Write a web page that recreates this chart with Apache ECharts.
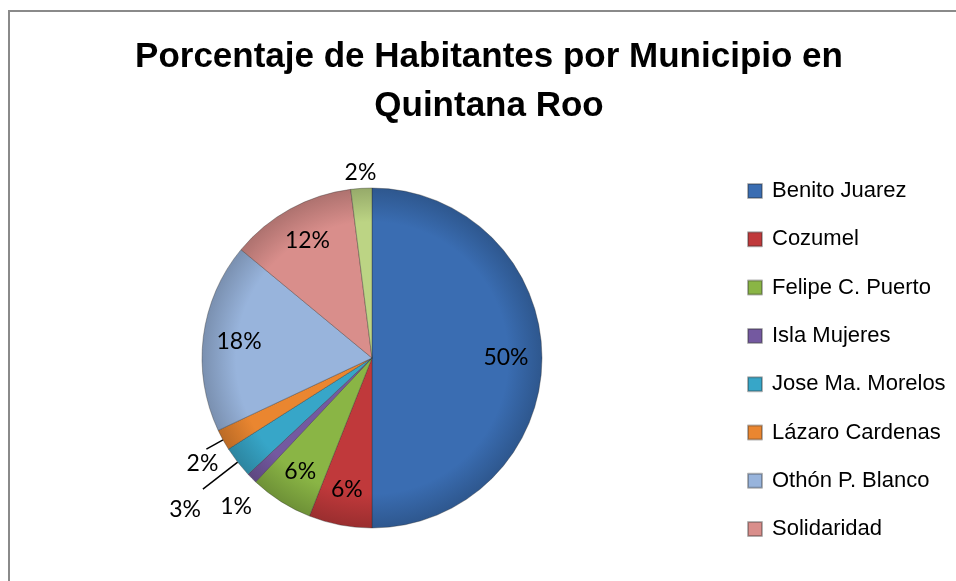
<!DOCTYPE html>
<html lang="es">

<head>
    <meta charset="UTF-8">
    <title>Habitantes por Municipio</title>
    <style>
        html, body {
            margin: 0;
            padding: 0;
            background: #fff;
            overflow: hidden;
        }

        .main {
            position: absolute;
            left: 0;
            top: 0;
            width: 956px;
            height: 581px;
        }

        .marco {
            position: absolute;
            left: 8px;
            top: 10px;
            right: -10px;
            bottom: -10px;
            border-left: 2px solid #8a8a8a;
            border-top: 2px solid #8a8a8a;
            pointer-events: none;
        }
    </style>
    <script src="https://cdn.jsdelivr.net/npm/echarts@6/dist/echarts.min.js"></script>
</head>

<body>
    <div class="main"></div>
    <div class="marco"></div>
    <script>
        // datos
        var municipios = ['Benito Juarez', 'Cozumel', 'Felipe C. Puerto', 'Isla Mujeres', 'Jose Ma. Morelos',
            'Lázaro Cardenas', 'Othón P. Blanco', 'Solidaridad', 'Tulum'];
        var porcentajes = [50, 6, 6, 1, 3, 2, 18, 12, 2];
        // la leyenda original solo muestra 8
        var leyenda = municipios.slice(0, 8);

        var colores = ['#3a6db2', '#c0393b', '#8ab545', '#7459a0', '#37a6c8', '#ea8630', '#98b4dc', '#d98e8b', '#bcd484'];

        var centro = [372, 358];
        var radio = 170;

        // etiquetas fuera del pastel (las rebanadas chicas), con su ajuste
        var fuera = {
            'Isla Mujeres': { length: 28, line: false, dx: 22, dy: 9 },
            'Jose Ma. Morelos': { length: 44, line: true, dx: 0, dy: 20 },
            'Lázaro Cardenas': { length: 19, line: true, dx: 14, dy: 15 },
            'Tulum': { length: 16, line: false, dx: 18, dy: 0 }
        };

        var myChart = echarts.init(document.querySelector('.main'));

        // oscurece un color hex
        function oscuro(hex, k) {
            var n = parseInt(hex.slice(1), 16);
            var r = Math.round(((n >> 16) & 255) * k);
            var g = Math.round(((n >> 8) & 255) * k);
            var b = Math.round((n & 255) * k);
            return 'rgb(' + r + ',' + g + ',' + b + ')';
        }

        var datosPie = [], datosEtiquetas = [];
        for (var i = 0; i < municipios.length; i++) {
            var nombre = municipios[i];
            var f = fuera[nombre];
            var base = colores[i];
            datosPie.push({
                name: nombre,
                value: porcentajes[i],
                itemStyle: {
                    color: {
                        type: 'radial', x: centro[0], y: centro[1], r: radio, global: true,
                        colorStops: [
                            { offset: 0, color: base },
                            { offset: 0.8, color: base },
                            { offset: 1, color: oscuro(base, 0.8) }
                        ]
                    }
                },
                label: { show: !!f },
                labelLine: f ? { show: f.line, length: f.length, length2: 0 } : { show: false }
            });
            datosEtiquetas.push({
                name: nombre,
                value: porcentajes[i],
                label: { show: !f }
            });
        }

        var datosLeyenda = leyenda.map(function (n) {
            return { name: n, itemStyle: { color: colores[municipios.indexOf(n)] } };
        });

        var option = {
            title: {
                text: 'Porcentaje de Habitantes por Municipio en\nQuintana Roo',
                left: 489,
                top: 33,
                textAlign: 'center',
                padding: 0,
                textStyle: {
                    fontFamily: 'Liberation Sans',
                    fontWeight: 'bold',
                    fontSize: 35,
                    lineHeight: 49,
                    color: '#000'
                }
            },
            legend: {
                data: datosLeyenda,
                orient: 'vertical',
                left: 742,
                top: 175,
                icon: 'rect',
                itemWidth: 14,
                itemHeight: 14,
                itemGap: 26.3,
                textStyle: {
                    fontFamily: 'Liberation Sans',
                    fontSize: 22,
                    lineHeight: 22,
                    color: '#000',
                    padding: [0, 0, 0, 5]
                }
            },
            series: [
                {
                    type: 'pie',
                    center: centro,
                    radius: radio,
                    startAngle: 90,
                    clockwise: true,
                    avoidLabelOverlap: false,
                    animation: false,
                    labelLayout: function (p) {
                        var f = fuera[municipios[p.dataIndex]];
                        return f ? { dx: f.dx, dy: f.dy } : {};
                    },
                    itemStyle: {
                        borderColor: 'rgba(40,40,40,0.35)',
                        borderWidth: 1
                    },
                    label: {
                        position: 'outside',
                        formatter: '{c}%',
                        fontFamily: 'Lato',
                        fontSize: 23,
                        color: '#000',
                        distanceToLabelLine: 2
                    },
                    labelLine: {
                        lineStyle: { color: '#000', width: 1.5 }
                    },
                    emphasis: { scale: false },
                    data: datosPie
                },
                {
                    // capa transparente solo para colocar las etiquetas internas
                    type: 'pie',
                    center: centro,
                    radius: [92, radio],
                    startAngle: 90,
                    clockwise: true,
                    silent: true,
                    animation: false,
                    itemStyle: { color: 'rgba(0,0,0,0)' },
                    label: {
                        position: 'inside',
                        formatter: '{c}%',
                        fontFamily: 'Lato',
                        fontSize: 23,
                        color: '#000'
                    },
                    labelLine: { show: false },
                    data: datosEtiquetas
                }
            ]
        };

        myChart.setOption(option);
    </script>
</body>

</html>
